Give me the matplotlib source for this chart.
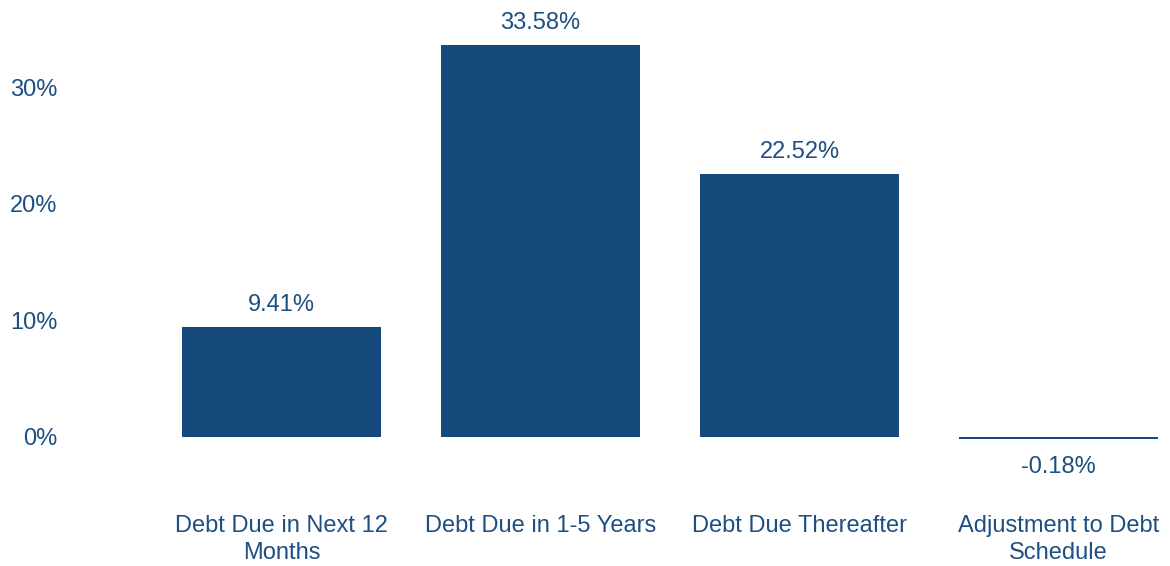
import matplotlib.pyplot as plt
from matplotlib.ticker import PercentFormatter

# data
categories = ['Debt Due in Next 12\nMonths', 'Debt Due in 1-5 Years',
              'Debt Due Thereafter', 'Adjustment to Debt\nSchedule']
values = [9.41, 33.58, 22.52, -0.18]
yticks = [0, 10, 20, 30]

bar_color = '#164a7d'
text_color = '#1d4f82'

plt.rcParams['font.family'] = ['Liberation Sans', 'DejaVu Sans']

fig = plt.figure(figsize=(11.7, 5.66), dpi=100)
ax = fig.add_axes([60 / 1170, 0, 1 - 60 / 1170, 1])

x = range(len(values))
bars = ax.bar(x, values, width=0.768, color=bar_color)

ax.set_xlim(-0.855, 3.43)
ax.set_ylim(-11.06, 37.46)

# value labels
for xi, v in zip(x, values):
    if v >= 0:
        ax.annotate(f'{v:.2f}%', (xi, v), xytext=(0, 8), textcoords='offset points',
                    ha='center', va='bottom', fontsize=17, color=text_color)
    else:
        ax.annotate(f'{v:.2f}%', (xi, v), xytext=(0, -12), textcoords='offset points',
                    ha='center', va='top', fontsize=17, color=text_color)

# category labels drawn inside the axes area at the bottom
for xi, c in zip(x, categories):
    ax.text(xi, -6.7, c, ha='center', va='top', fontsize=17, color=text_color,
            linespacing=1.3)

ax.set_yticks(yticks)
ax.yaxis.set_major_formatter(PercentFormatter(decimals=0))
ax.tick_params(axis='y', length=0, pad=2, labelsize=17, labelcolor=text_color)
ax.set_xticks([])
for s in ax.spines.values():
    s.set_visible(False)

fig.savefig('out.png', dpi=100)
